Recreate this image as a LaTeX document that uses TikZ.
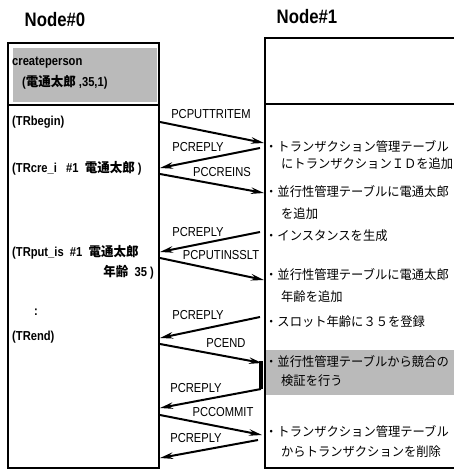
\documentclass[tikz,border=0pt]{standalone}
\usepackage{fontspec}
\setmainfont{Liberation Sans}[FakeStretch=0.86]
\newfontfamily\jp{Noto Sans CJK JP}[FakeStretch=0.96]
\usetikzlibrary{arrows.meta}
\begin{document}
\begin{tikzpicture}[x=1pt,y=-1pt,
  box/.style={line width=1.6pt},
  msg/.style={line width=2pt,-{Stealth[length=13pt,width=6.5pt]}},
  lbl/.style={font=\fontsize{13}{14}\selectfont, inner sep=0pt},
  ltxt/.style={font=\fontsize{13}{15}\selectfont\bfseries, inner sep=0pt, anchor=west},
  rtxt/.style={font=\jp\fontsize{12.8}{15}\selectfont, inner sep=0pt, anchor=west},
  ttl/.style={font=\fontsize{19.5}{21}\selectfont\bfseries, inner sep=0pt},
  shade/.style={fill=black!27, draw=none}]
\useasboundingbox (0,0) rectangle (454,473);

% titles
\node[ttl] (t0) at (55,20) {Node\#0};
\node[ttl] (t1) at (307,17) {Node\#1};

% left box
\fill[shade] (13,48) rectangle (157,102);
\draw[box] (8,43) rectangle (159,468);
\draw[box] (8,105) -- (159,105);

% right box (open on the right)
\fill[shade] (266,350) rectangle (454,395);
\draw[box] (454,38) -- (265,38) -- (265,468) -- (454,468);
\draw[box] (265,104) -- (454,104);

% left texts
\node[ltxt] (cp) at (12,63) {createperson};
\node[ltxt] (cpa) at (22,82) {({\jp 電通太郎} ,35,1)};
\node[ltxt] (tb) at (12,122) {(TRbegin)};
\node[ltxt] (tc) at (12,168) {(TRcre\_i~~~\#1~~{\jp 電通太郎} )};
\node[ltxt] (tp) at (12,252) {(TRput\_is~~\#1~~{\jp 電通太郎}};
\node[ltxt,anchor=east] (tp2) at (154,272) {{\jp 年齢}~~35 )};
\node[ltxt] (dots) at (34,312) {:};
\node[ltxt] (te) at (12,337) {(TRend)};

% right texts
\node[rtxt] (r1) at (265,147) {・トランザクション管理テーブル};
\node[rtxt] (r1b) at (281,164) {にトランザクションＩＤを追加};
\node[rtxt] (r2) at (265,192) {・並行性管理テーブルに電通太郎};
\node[rtxt] (r2b) at (281,214) {を追加};
\node[rtxt] (r3) at (265,236) {・インスタンスを生成};
\node[rtxt] (r4) at (265,275) {・並行性管理テーブルに電通太郎};
\node[rtxt] (r4b) at (281,297) {年齢を追加};
\node[rtxt] (r5) at (265,322) {・スロット年齢に３５を登録};
\node[rtxt] (r6) at (265,362) {・並行性管理テーブルから競合の};
\node[rtxt] (r6b) at (281,381) {検証を行う};
\node[rtxt] (r7) at (265,432) {・トランザクション管理テーブル};
\node[rtxt] (r7b) at (281,452) {からトランザクションを削除};

% endpoints
\coordinate (a1s) at (160,122); \coordinate (a1e) at (264,143);
\coordinate (a2s) at (260,148); \coordinate (a2e) at (160,168);
\coordinate (a3s) at (160,174); \coordinate (a3e) at (264,193);
\coordinate (a4s) at (260,232); \coordinate (a4e) at (160,252);
\coordinate (a5s) at (160,258); \coordinate (a5e) at (264,280);
\coordinate (a6s) at (260,317); \coordinate (a6e) at (160,338);
\coordinate (a7s) at (160,344); \coordinate (a7e) at (262,363);
\coordinate (bt) at (261,361); \coordinate (bb) at (261,389);
\coordinate (a8e) at (160,408);
\coordinate (a9s) at (160,415); \coordinate (a9e) at (262,435);
\coordinate (a10s) at (258,440); \coordinate (a10e) at (160,458);

% messages
\draw[msg] (a1s) -- (a1e);
\draw[msg] (a2s) -- (a2e);
\draw[msg] (a3s) -- (a3e);
\draw[msg] (a4s) -- (a4e);
\draw[msg] (a5s) -- (a5e);
\draw[msg] (a6s) -- (a6e);
\draw[msg] (a7s) -- (a7e);
\draw[line width=3.2pt] (bt) -- (bb);
\draw[msg] (bb) -- (a8e);
\draw[msg] (a9s) -- (a9e);
\draw[msg] (a10s) -- (a10e);

% labels
\node[lbl] (l1) at (211,114) {PCPUTTRITEM};
\node[lbl] (l2) at (198,147) {PCREPLY};
\node[lbl] (l3) at (222,172) {PCCREINS};
\node[lbl] (l4) at (198,232) {PCREPLY};
\node[lbl] (l5) at (221,255) {PCPUTINSSLT};
\node[lbl] (l6) at (198,315) {PCREPLY};
\node[lbl] (l7) at (226,343) {PCEND};
\node[lbl] (l8) at (196,388) {PCREPLY};
\node[lbl] (l9) at (223,412) {PCCOMMIT};
\node[lbl] (l10) at (196,438) {PCREPLY};
\end{tikzpicture}
\end{document}
